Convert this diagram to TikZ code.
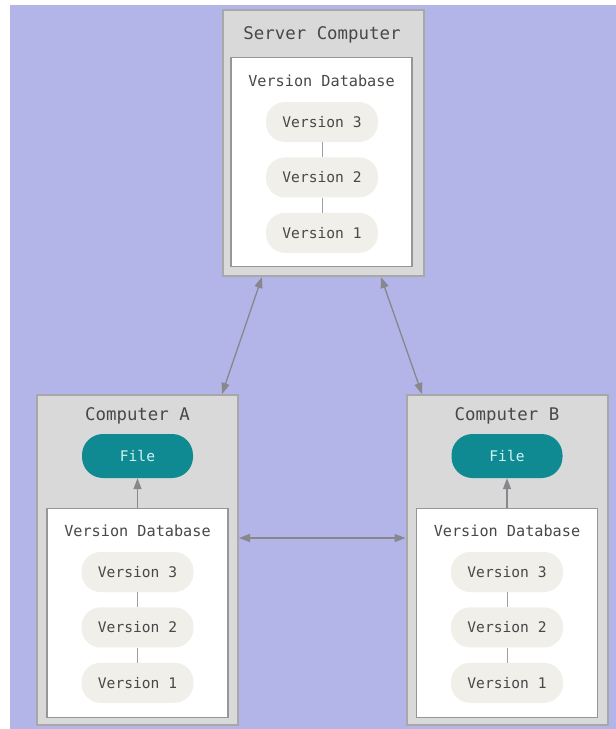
\documentclass[tikz,border=0pt]{standalone}
\usepackage{fontspec}
\setmonofont{DejaVu Sans Mono}
\usepackage{tikz}
\usetikzlibrary{positioning,arrows.meta}

\definecolor{lavender}{RGB}{179,181,233}
\definecolor{boxgrey}{RGB}{217,217,217}
\definecolor{boxedge}{RGB}{168,168,168}
\definecolor{dbedge}{RGB}{150,150,150}
\definecolor{pill}{RGB}{240,239,234}
\definecolor{filefill}{RGB}{16,138,146}
\definecolor{filetext}{RGB}{205,243,243}
\definecolor{ink}{RGB}{72,72,72}
\definecolor{arrowgrey}{RGB}{135,135,140}

\begin{document}
\begin{tikzpicture}[
    x=1pt, y=1pt,
    node distance=15pt,
    machine/.style={rectangle, draw=boxedge, fill=boxgrey, line width=2pt, minimum width=201pt},
    vdb/.style={rectangle, draw=dbedge, fill=white, line width=1.2pt, minimum width=181pt, minimum height=209pt},
    heading/.style={text=ink, font=\ttfamily\fontsize{17.4}{20}\selectfont},
    dblabel/.style={text=ink, font=\ttfamily\fontsize{15.2}{18}\selectfont},
    version/.style={rectangle, fill=pill, rounded corners=19pt, minimum width=112pt, minimum height=40pt, text=ink, font=\ttfamily\fontsize{14.6}{17}\selectfont},
    filepill/.style={rectangle, fill=filefill, rounded corners=21pt, minimum width=111pt, minimum height=44pt, text=filetext, font=\ttfamily\fontsize{14.6}{17}\selectfont},
    chain/.style={draw=arrowgrey!80, line width=0.8pt},
    link/.style={{Triangle[length=11pt,width=8pt]}-{Triangle[length=11pt,width=8pt]}, draw=arrowgrey, line width=1.3pt},
    pull/.style={-{Triangle[length=11pt,width=8pt]}, draw=arrowgrey, line width=1.3pt}
]
    % page and backdrop
    \useasboundingbox (0,0) rectangle (616,-729);
    \fill[white] (0,0) rectangle (616,-729);
    \fill[lavender] (10,-5) rectangle (616,-729);

    % server
    \node[machine, minimum height=266pt] (srv) at (323,-143) {};
    \node[heading] (srvtitle) at (322,-35) {Server Computer};
    \node[vdb] (srvdb) at (321.5,-162) {};
    \node[dblabel] (srvlabel) at (321.5,-81) {Version Database};
    \node[version] (s3) at (322,-122) {Version 3};
    \node[version, below=of s3] (s2) {Version 2};
    \node[version, below=of s2] (s1) {Version 1};
    \draw[chain] (s3) -- (s2);
    \draw[chain] (s2) -- (s1);

    % computer A
    \node[machine, minimum height=330pt] (compA) at (137.5,-560) {};
    \node[heading] (titleA) at (137.5,-416) {Computer A};
    \node[filepill] (fileA) at (137.5,-456) {File};
    \node[vdb] (dbA) at (137.5,-613) {};
    \node[dblabel] (labelA) at (137.5,-531) {Version Database};
    \node[version] (a3) at (137.5,-572) {Version 3};
    \node[version, below=of a3] (a2) {Version 2};
    \node[version, below=of a2] (a1) {Version 1};
    \draw[chain] (a3) -- (a2);
    \draw[chain] (a2) -- (a1);
    \draw[pull] (dbA) -- (fileA);

    % computer B
    \node[machine, minimum height=330pt] (compB) at (507,-560) {};
    \node[heading] (titleB) at (507,-416) {Computer B};
    \node[filepill] (fileB) at (507,-456) {File};
    \node[vdb] (dbB) at (507,-613) {};
    \node[dblabel] (labelB) at (507,-531) {Version Database};
    \node[version] (b3) at (507,-572) {Version 3};
    \node[version, below=of b3] (b2) {Version 2};
    \node[version, below=of b2] (b1) {Version 1};
    \draw[chain] (b3) -- (b2);
    \draw[chain] (b2) -- (b1);
    \draw[pull] (dbB) -- (fileB);

    % sync links
    \draw[link] ([xshift=-61pt]srv.south) -- ([xshift=84.5pt]compA.north);
    \draw[link] ([xshift=58pt]srv.south) -- ([xshift=-85pt]compB.north);
    \draw[link] ([yshift=22pt]compA.east) -- ([yshift=22pt]compB.west);
\end{tikzpicture}
\end{document}
